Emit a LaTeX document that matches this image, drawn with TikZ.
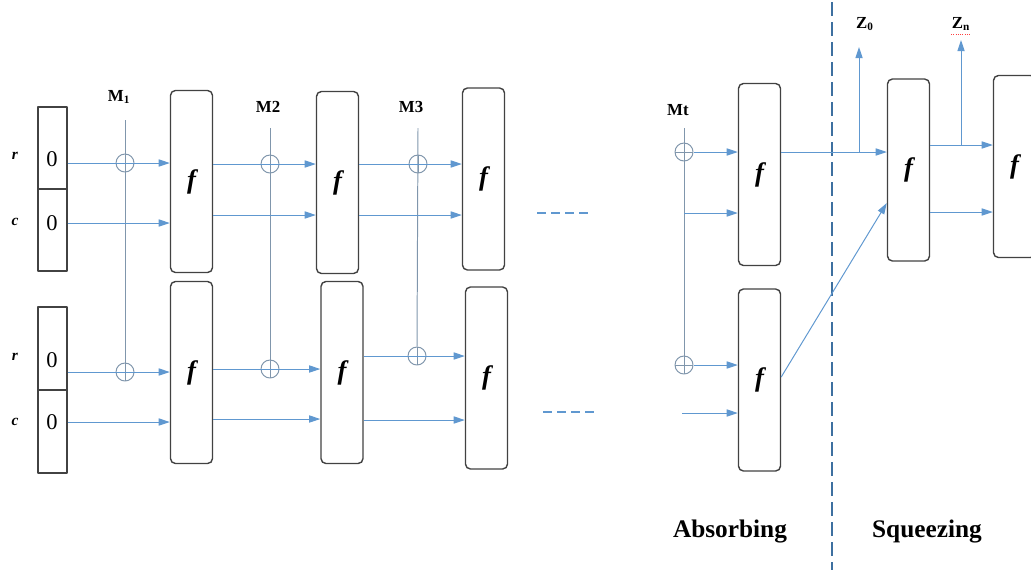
\documentclass[tikz,border=0pt]{standalone}
\usepackage{fontspec}
\setmainfont{Liberation Serif}
\usetikzlibrary{arrows.meta}
\definecolor{flowblue}{RGB}{96,152,208}
\definecolor{cutblue}{RGB}{62,112,160}
\definecolor{mgray}{RGB}{128,150,172}
\definecolor{boxgray}{RGB}{66,66,66}
\begin{document}
\begin{tikzpicture}[x=0.25mm, y=-0.25mm, line join=round,
	fbox/.style={draw=boxgray, line width=1pt, rounded corners=3.5pt, minimum width=10.5mm, minimum height=45.5mm, inner sep=0pt, font=\fontsize{19}{20}\selectfont\bfseries\itshape},
	cell/.style={draw=boxgray, line width=1pt, minimum width=7.25mm, inner sep=0pt},
	zero/.style={font=\fontsize{16}{18}\selectfont},
	side/.style={font=\fontsize{11}{13}\selectfont\bfseries\itshape},
	mlab/.style={font=\fontsize{12}{14}\selectfont\bfseries},
	stage/.style={font=\fontsize{18}{20}\selectfont\bfseries},
	oplus/.style={circle, draw=mgray, line width=0.7pt, minimum size=4.5mm, inner sep=0pt,
		path picture={\draw[mgray, line width=0.7pt] (path picture bounding box.north)--(path picture bounding box.south) (path picture bounding box.west)--(path picture bounding box.east);}},
	flow/.style={draw=flowblue, line width=0.7pt, -{Triangle[length=2.8mm,width=1.8mm]}},
	mline/.style={draw=mgray, line width=0.7pt},
	more/.style={draw=flowblue, line width=1.6pt, dash pattern=on 2.3mm off 1.2mm}]
	\useasboundingbox (0,0) rectangle (1031,570);
	\clip (0,0) rectangle (1031,570);

	\node[cell, minimum height=20.5mm] (in1r) at (52.5,148) {};
	\node[cell, minimum height=20.5mm] (in1c) at (52.5,230) {};
	\node[cell, minimum height=20.75mm] (in2r) at (52.5,348.5) {};
	\node[cell, minimum height=20.75mm] (in2c) at (52.5,431.5) {};
	\node[zero] (z1r) at (52,159) {0};
	\node[zero] (z1c) at (52,223) {0};
	\node[zero] (z2r) at (52,360) {0};
	\node[zero] (z2c) at (52,422) {0};
	\node[side] (s1r) at (15,156) {r};
	\node[side] (s1c) at (15,222) {c};
	\node[side] (s2r) at (15,357) {r};
	\node[side] (s2c) at (15,422) {c};

	\node[fbox] (f11) at (191.5,181.5) {f};
	\node[fbox] (f12) at (191.5,372.5) {f};
	\node[fbox] (f21) at (337.5,182.5) {f};
	\node[fbox] (f22) at (342,372.5) {f};
	\node[fbox] (f31) at (483.5,179) {f};
	\node[fbox] (f32) at (486.5,378) {f};
	\node[fbox] (fa1) at (759.5,174.5) {f};
	\node[fbox] (fa2) at (759.5,380) {f};
	\node[fbox] (fs) at (908.5,170) {f};
	\node[fbox] (fl) at (1014.5,166.5) {f};

	\node[oplus] (p11) at (125,163) {};
	\node[oplus] (p12) at (125,372) {};
	\node[oplus] (p21) at (270,164) {};
	\node[oplus] (p22) at (270,369) {};
	\node[oplus] (p31) at (418,164) {};
	\node[oplus] (p32) at (417,356) {};
	\node[oplus] (pt1) at (684,152) {};
	\node[oplus] (pt2) at (684,365) {};

	\node[mlab] (m1) at (119,97) {M\textsubscript{1}};
	\node[mlab] (m2) at (268,107) {M2};
	\node[mlab] (m3) at (411,107) {M3};
	\node[mlab] (mt) at (678,110) {Mt};
	\coordinate (m1b) at (125,120);
	\coordinate (m2b) at (270,128);
	\coordinate (m3b) at (418,128);
	\coordinate (mtb) at (684,128);
	\draw[mline] (m1b)--(p12.north);
	\draw[mline] (m2b)--(p22.north);
	\draw[mline] (m3b)--(p32.north);
	\draw[mline] (mtb)--(pt2.north);

	\draw[flow] (in1r.east |- p11)--(f11.west |- p11);
	\draw[flow] (in1c.east |- z1c)--(f11.west |- z1c);
	\draw[flow] (in2r.east |- p12)--(f12.west |- p12);
	\draw[flow] (in2c.east |- z2c)--(f12.west |- z2c);

	\coordinate (c2t) at (0,215);
	\coordinate (c2b) at (0,419);
	\coordinate (c3b) at (0,420);
	\draw[flow] (f11.east |- p21)--(f21.west |- p21);
	\draw[flow] (f11.east |- c2t)--(f21.west |- c2t);
	\draw[flow] (f12.east |- p22)--(f22.west |- p22);
	\draw[flow] (f12.east |- c2b)--(f22.west |- c2b);
	\draw[flow] (f21.east |- p31)--(f31.west |- p31);
	\draw[flow] (f21.east |- c2t)--(f31.west |- c2t);
	\draw[flow] (f22.east |- p32)--(f32.west |- p32);
	\draw[flow] (f22.east |- c3b)--(f32.west |- c3b);

	\draw[more] (537,213)--(592,213);
	\draw[more] (543,412)--(598,412);

	\coordinate (ca) at (684,213);
	\coordinate (cb) at (682,413);
	\draw[flow] (pt1.east)--(fa1.west |- pt1);
	\draw[flow] (ca)--(fa1.west |- ca);
	\draw[flow] (pt2.east)--(fa2.west |- pt2);
	\draw[flow] (cb)--(fa2.west |- cb);

	\draw[cutblue, line width=1.6pt, dash pattern=on 3.5mm off 1.5mm] (832,2)--(832,570);

	\node[mlab] (z0) at (865,24) {Z\textsubscript{0}};
	\node[mlab] (zn) at (961,24) {Z\textsubscript{n}};
	\draw[red!75, line width=0.6pt, densely dotted] (951,34)--(971,34);
	\coordinate (z0b) at (859,152);
	\coordinate (z0t) at (859,47);
	\coordinate (znb) at (961,145);
	\coordinate (znt) at (961,40);
	\coordinate (sq) at (0,203);
	\coordinate (sb) at (0,212);
	\draw[flow] (fa1.east |- pt1)--(fs.west |- pt1);
	\draw[flow] (z0b)--(z0t);
	\draw[flow] (fa2.east |- 0,377)--(fs.west |- sq);
	\draw[flow] (fs.east |- znb)--(fl.west |- znb);
	\draw[flow] (znb)--(znt);
	\draw[flow] (fs.east |- sb)--(fl.west |- sb);

	\node[stage] (abs) at (730,532) {Absorbing};
	\node[stage] (sqz) at (927,532) {Squeezing};
\end{tikzpicture}
\end{document}
